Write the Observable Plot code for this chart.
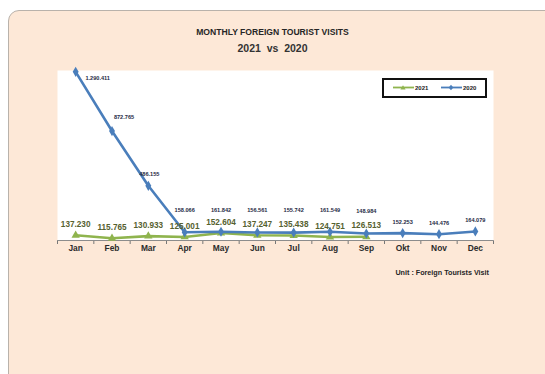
<!DOCTYPE html>
<html>
<head>
<meta charset="utf-8">
<script src="https://cdn.jsdelivr.net/npm/d3@7"></script>
<script src="https://cdn.jsdelivr.net/npm/@observablehq/plot@0.6"></script>
<style>
  html, body { margin: 0; padding: 0; background: #ffffff; overflow: hidden; width: 545px; height: 374px; }
  #wrap { position: relative; width: 545px; height: 374px; overflow: hidden; font-family: "Liberation Sans", Arial, sans-serif; }
  #panel { position: absolute; left: 8px; top: 10px; width: 560px; height: 400px; background: #fde8d7; border: 1px solid #b9b2ab; border-radius: 11px; }
  .t { position: absolute; left: 0; width: 545px; text-align: center; font-weight: bold; color: #262626; }
  #title { top: 27px; font-size: 8.6px; }
  #sub { top: 42px; font-size: 10.5px; color: #333; }
  #unit { position: absolute; top: 268px; right: 56px; font-size: 7.2px; font-weight: bold; color: #262626; }
  #chart { position: absolute; left: 0; top: 0; }
  #legend { position: absolute; left: 382px; top: 78px; width: 101px; height: 16px; border: 2px solid #111; background: #fff; font-size: 6px; font-weight: bold; color: #222; }
  .li { position: absolute; top: 4px; display: flex; align-items: center; gap: 1px; }
</style>
</head>
<body>
<div id="wrap">
  <div id="panel"></div>
  <div id="title" class="t">MONTHLY FOREIGN TOURIST VISITS</div>
  <div id="sub" class="t">2021&nbsp; vs&nbsp; 2020</div>
  <div id="chart"></div>
  <div id="legend"></div>
  <div id="unit">Unit : Foreign Tourists Visit</div>
</div>
<script>
const months = ["Jan","Feb","Mar","Apr","May","Jun","Jul","Aug","Sep","Okt","Nov","Dec"];
const visits2020 = [1290411, 872765, 486155, 158066, 161842, 156561, 155742, 161549, 148984, 152253, 144476, 164079];
const visits2021 = [137230, 115765, 130933, 125001, 152604, 137247, 135438, 124751, 126513];
const seriesNames = ["2021", "2020"];
const colors = {"2021": "#8fb44e", "2020": "#4a7ebb"};

const fmt = d3.formatLocale({decimal: ",", thousands: ".", grouping: [3], currency: ["", ""]}).format(",");

const d20 = visits2020.map((v, i) => ({i, month: months[i], v}));
const d21 = visits2021.map((v, i) => ({i, month: months[i], v}));
const boundaries = d3.range(months.length + 1).map(k => k - 0.5);

const labelFont = {fontFamily: "Liberation Sans, Arial, sans-serif", fontWeight: "bold"};

const plot = Plot.plot({
  width: 545,
  height: 262,
  marginLeft: 57,
  marginRight: 52,
  marginTop: 70,
  marginBottom: 22,
  x: {type: "linear", domain: [-0.5, months.length - 0.5], ticks: boundaries, tickFormat: () => "", tickSize: 4, label: null, line: false},
  y: {domain: [100000, 1300000], axis: null},
  style: {background: "transparent", color: "#777", fontFamily: "Liberation Sans, Arial, sans-serif"},
  marks: [
    Plot.frame({fill: "#ffffff", stroke: null}),
    Plot.ruleY([100000], {stroke: "#8c8c8c", strokeWidth: 1}),
    Plot.text(months, {x: (d, i) => i, text: d => d, frameAnchor: "bottom", dy: 10, fill: "#2b2b2b", fontSize: 8.4, ...labelFont}),
    Plot.line(d21, {x: "i", y: "v", stroke: colors["2021"], strokeWidth: 2.6}),
    Plot.dot(d21, {x: "i", y: "v", symbol: "triangle", r: 3.1, fill: colors["2021"], stroke: null}),
    Plot.line(d20, {x: "i", y: "v", stroke: colors["2020"], strokeWidth: 2.6}),
    Plot.dot(d20, {x: "i", y: "v", symbol: "diamond", r: 3.1, fill: colors["2020"], stroke: null}),
    // 2021 value labels
    Plot.text(d21, {x: "i", y: "v", text: d => fmt(d.v), dy: -11, fill: "#56612f", fontSize: 8.2, ...labelFont}),
    // 2020 value labels
    Plot.text(d20.filter(d => d.i === 0), {x: "i", y: "v", text: d => fmt(d.v), dx: 22, dy: 6, fill: "#1e2a45", fontSize: 5.6, ...labelFont}),
    Plot.text(d20.filter(d => d.i === 1), {x: "i", y: "v", text: d => fmt(d.v), dx: 12, dy: -14, fill: "#1e2a45", fontSize: 5.6, ...labelFont}),
    Plot.text(d20.filter(d => d.i === 2), {x: "i", y: "v", text: d => fmt(d.v), dx: 1, dy: -12, fill: "#1e2a45", fontSize: 5.6, ...labelFont}),
    Plot.text(d20.filter(d => d.i >= 3 && d.i < visits2021.length), {x: "i", y: "v", text: d => fmt(d.v), dy: -22, fill: "#1e2a45", fontSize: 5.6, ...labelFont}),
    Plot.text(d20.filter(d => d.i >= visits2021.length), {x: "i", y: "v", text: d => fmt(d.v), dy: -11, fill: "#1e2a45", fontSize: 5.6, ...labelFont})
  ]
});
document.getElementById("chart").appendChild(plot);

// legend
const legend = document.getElementById("legend");
const pos = {"2021": 9, "2020": 57};
for (const name of seriesNames) {
  const item = document.createElement("div");
  item.className = "li";
  item.style.left = pos[name] + "px";
  const sym = name === "2021"
    ? `<path d="M10,1.2 L12.6,5.6 L7.4,5.6 Z" fill="${colors[name]}"/>`
    : `<path d="M10,0.8 L12.4,3.5 L10,6.2 L7.6,3.5 Z" fill="${colors[name]}"/>`;
  item.innerHTML = `<svg width="21" height="7"><line x1="0" x2="21" y1="3.5" y2="3.5" stroke="${colors[name]}" stroke-width="1.8"/>${sym}</svg><span>${name}</span>`;
  legend.appendChild(item);
}
</script>
</body>
</html>
